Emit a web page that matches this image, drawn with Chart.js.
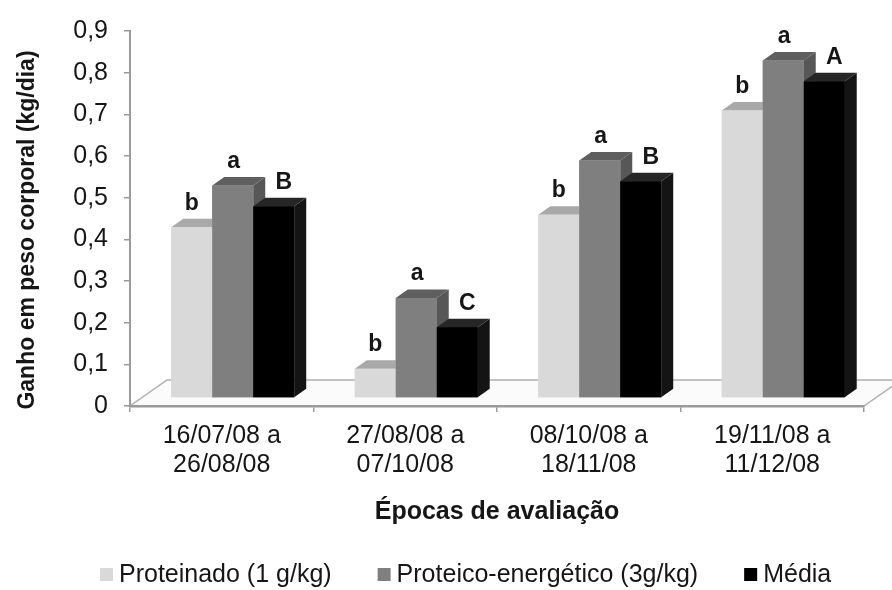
<!DOCTYPE html>
<html>
<head>
<meta charset="utf-8">
<script src="https://cdn.jsdelivr.net/npm/chart.js@4.4.1/dist/chart.umd.min.js"></script>
<style>
  html, body { margin: 0; padding: 0; background: #ffffff; }
  #wrap { width: 892px; height: 590px; position: relative; }
</style>
</head>
<body>
<div id="wrap"><canvas id="chart"></canvas></div>
<script>
// Evaluation periods (two-line category labels)
const categories = [
  ['16/07/08 a', '26/08/08'],
  ['27/08/08 a', '07/10/08'],
  ['08/10/08 a', '18/11/08'],
  ['19/11/08 a', '11/12/08']
];

const seriesNames = ['Proteinado (1 g/kg)', 'Proteico-energético (3g/kg)', 'Média'];

// Daily weight gain (kg/dia)
const proteinado = [0.41, 0.07, 0.44, 0.69];
const proteicoEnergetico = [0.51, 0.24, 0.57, 0.81];
const media = [0.46, 0.17, 0.52, 0.76];

// Significance letters above each bar
const lettersProteinado = ['b', 'b', 'b', 'b'];
const lettersProteicoEnergetico = ['a', 'a', 'a', 'a'];
const lettersMedia = ['B', 'C', 'B', 'A'];

const yTickLabels = ['0', '0,1', '0,2', '0,3', '0,4', '0,5', '0,6', '0,7', '0,8', '0,9'];

const FONT = '"Liberation Sans", Arial, Helvetica, sans-serif';
const TEXT = '#161616';
const AXIS = '#9a9a9a';

const frontColors = ['#d9d9d9', '#7f7f7f', '#000000'];
const topColors   = ['#a9a9a9', '#5f5f5f', '#262626'];
const sideColors  = ['#bcbcbc', '#575757', '#141414'];

const letters = [lettersProteinado, lettersProteicoEnergetico, lettersMedia];

// 3D geometry
const FLOOR = { dx: 37, dy: 26 };     // depth of the floor plane
const BAR_SHIFT = { dx: 11, dy: -8 }; // bars sit halfway back on the floor
const EXTRUDE = { dx: 12, dy: 8.5 };  // bar depth
const LETTER_DX = [0, 1, 10];

const floorPlugin = {
  id: 'floor3d',
  beforeDraw(chart) {
    const { ctx, chartArea: a } = chart;
    ctx.save();
    ctx.beginPath();
    ctx.moveTo(a.left, a.bottom);
    ctx.lineTo(a.right, a.bottom);
    ctx.lineTo(a.right + FLOOR.dx, a.bottom - FLOOR.dy);
    ctx.lineTo(a.left + FLOOR.dx, a.bottom - FLOOR.dy);
    ctx.closePath();
    ctx.fillStyle = '#fbfbfb';
    ctx.fill();
    ctx.strokeStyle = '#b0b0b0';
    ctx.lineWidth = 1.5;
    ctx.stroke();
    ctx.restore();
  }
};

const barsPlugin = {
  id: 'bars3d',
  beforeDatasetsDraw(chart) {
    chart.ctx.save();
    chart.ctx.translate(BAR_SHIFT.dx, BAR_SHIFT.dy);
  },
  afterDatasetsDraw(chart) {
    const ctx = chart.ctx;
    const n = chart.data.labels.length;
    for (let i = 0; i < n; i++) {
      chart.data.datasets.forEach((ds, d) => {
        const el = chart.getDatasetMeta(d).data[i];
        const { x, y, base, width } = el.getProps(['x', 'y', 'base', 'width'], true);
        const l = x - width / 2, r = x + width / 2;
        // right side face
        ctx.fillStyle = sideColors[d];
        ctx.beginPath();
        ctx.moveTo(r, base);
        ctx.lineTo(r + EXTRUDE.dx, base - EXTRUDE.dy);
        ctx.lineTo(r + EXTRUDE.dx, y - EXTRUDE.dy);
        ctx.lineTo(r, y);
        ctx.closePath();
        ctx.fill();
        // top face
        ctx.fillStyle = topColors[d];
        ctx.beginPath();
        ctx.moveTo(l, y);
        ctx.lineTo(l + EXTRUDE.dx, y - EXTRUDE.dy);
        ctx.lineTo(r + EXTRUDE.dx, y - EXTRUDE.dy);
        ctx.lineTo(r, y);
        ctx.closePath();
        ctx.fill();
        // front face
        ctx.fillStyle = frontColors[d];
        ctx.fillRect(l, y, width, base - y);
      });
    }
    // significance letters
    ctx.fillStyle = TEXT;
    ctx.font = 'bold 23px ' + FONT;
    ctx.textAlign = 'center';
    ctx.textBaseline = 'middle';
    chart.data.datasets.forEach((ds, d) => {
      chart.getDatasetMeta(d).data.forEach((el, i) => {
        const { x, y } = el.getProps(['x', 'y'], true);
        ctx.fillText(letters[d][i], x + LETTER_DX[d], y - 24);
      });
    });
    ctx.restore();
  },
  afterDraw(chart) {
    const ctx = chart.ctx;
    // vertical axis title
    ctx.save();
    ctx.translate(34, 230);
    ctx.rotate(-Math.PI / 2);
    ctx.font = 'bold 23px ' + FONT;
    ctx.fillStyle = TEXT;
    ctx.textAlign = 'center';
    ctx.textBaseline = 'alphabetic';
    ctx.fillText('Ganho em peso corporal (kg/dia)', 0, 0);
    ctx.restore();

    // legend row
    ctx.save();
    ctx.font = '25px ' + FONT;
    ctx.textBaseline = 'middle';
    ctx.textAlign = 'left';
    let lx = 100;
    const ly = 575;
    chart.data.datasets.forEach((ds, d) => {
      ctx.fillStyle = frontColors[d];
      ctx.fillRect(lx, ly - 7, 13, 13);
      ctx.fillStyle = TEXT;
      ctx.fillText(ds.label, lx + 19, ly);
      lx += 19 + ctx.measureText(ds.label).width + 46;
    });
    ctx.restore();
  }
};

new Chart(document.getElementById('chart'), {
  type: 'bar',
  data: {
    labels: categories,
    datasets: [
      { label: seriesNames[0], data: proteinado, backgroundColor: frontColors[0] },
      { label: seriesNames[1], data: proteicoEnergetico, backgroundColor: frontColors[1] },
      { label: seriesNames[2], data: media, backgroundColor: frontColors[2] }
    ]
  },
  options: {
    responsive: true,
    maintainAspectRatio: false,
    animation: false,
    events: [],
    layout: { padding: { top: 26, right: 28, bottom: 0, left: 0 } },
    datasets: { bar: { categoryPercentage: 0.67, barPercentage: 1.0 } },
    plugins: {
      legend: { display: false },
      tooltip: { enabled: false }
    },
    scales: {
      x: {
        afterFit(scale) { scale.height = 184; },
        grid: { display: true, drawOnChartArea: false, drawTicks: true, tickLength: 6, color: AXIS, lineWidth: 1.5, offset: true },
        border: { display: true, color: AXIS, width: 2.5 },
        ticks: { font: { family: FONT, size: 25, lineHeight: 1.16 }, color: TEXT, padding: 10, maxRotation: 0, autoSkip: false },
        title: {
          display: true,
          text: 'Épocas de avaliação',
          font: { family: FONT, size: 25, weight: 'bold', lineHeight: 1.2 },
          color: TEXT,
          padding: { top: 0, bottom: 63 }
        }
      },
      y: {
        min: 0,
        max: 0.9,
        afterFit(scale) { scale.width = 130; },
        afterBuildTicks(scale) {
          scale.ticks = yTickLabels.map((t, i) => ({ value: i / 10 }));
        },
        grid: { display: true, drawOnChartArea: false, drawTicks: true, tickLength: 6, color: AXIS, lineWidth: 1.5 },
        border: { display: true, color: AXIS, width: 2 },
        ticks: {
          font: { family: FONT, size: 25 },
          color: TEXT,
          padding: 16,
          callback: (v, i) => yTickLabels[i]
        },
        title: { display: false }
      }
    }
  },
  plugins: [floorPlugin, barsPlugin]
});
</script>
</body>
</html>
